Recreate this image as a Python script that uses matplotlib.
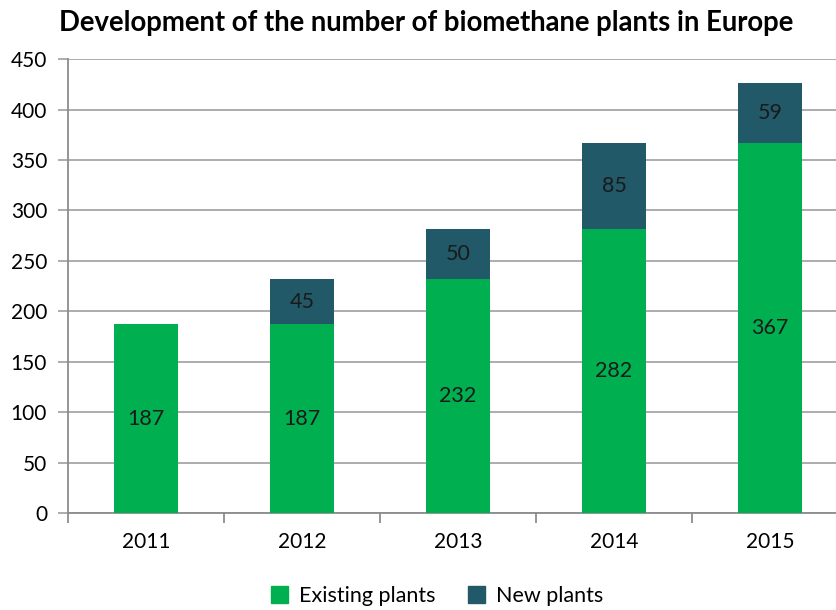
import matplotlib.pyplot as plt
from matplotlib.patches import Patch

years = ["2011", "2012", "2013", "2014", "2015"]
existing = [187, 187, 232, 282, 367]
new = [0, 45, 50, 85, 59]
new_labels = ["", "45", "50", "85", "59"]

green = "#00B050"
teal = "#215968"

plt.rcParams['font.family'] = ['Lato', 'DejaVu Sans']

fig = plt.figure(figsize=(8.37, 6.10), dpi=100)
ax = fig.add_axes([0.0812, 0.159, 0.932, 0.744])

x = list(range(len(years)))
w = 0.41
ax.bar(x, existing, w, color=green, zorder=3)
ax.bar(x, new, w, bottom=existing, color=teal, zorder=3)

for i in x:
    ax.text(i, existing[i] / 2, str(existing[i]), ha="center", va="center",
            fontsize=15.5, color="#1a1a1a", zorder=4)
    if new[i] > 0:
        ax.text(i, existing[i] + new[i] / 2, new_labels[i], ha="center", va="center",
                fontsize=15.5, color="#1a1a1a", zorder=4)

ax.set_xlim(-0.5, 4.5)
ax.set_ylim(0, 450)
ax.set_yticks(range(0, 451, 50))
ax.yaxis.grid(True, color="#a6a6a6", linewidth=1.3, zorder=0)
ax.set_xticks(x)
ax.set_xticklabels(years)
ax.set_xticks([i - 0.5 for i in range(len(years) + 1)], minor=True)
ax.tick_params(axis="x", which="major", length=0, pad=14, labelsize=15)
ax.tick_params(axis="x", which="minor", length=7, color="#8c8c8c", width=1.3)
ax.tick_params(axis="y", length=7, color="#a6a6a6", width=1.3, labelsize=15, pad=8)

for s in ["top", "right"]:
    ax.spines[s].set_visible(False)
ax.spines["left"].set_color("#8c8c8c")
ax.spines["bottom"].set_color("#8c8c8c")
ax.spines["left"].set_linewidth(1.3)
ax.spines["bottom"].set_linewidth(1.3)

fig.text(0.509, 0.963, "Development of the number of biomethane plants in Europe",
         ha="center", va="center", fontsize=19.8, fontweight="bold")

handles = [Patch(color=green, label="Existing plants"), Patch(color=teal, label="New plants")]
fig.legend(handles=handles, loc="center", bbox_to_anchor=(0.522, 0.023), ncol=2,
           frameon=False, fontsize=15.5, handlelength=0.8, handleheight=0.8,
           handletextpad=0.5, columnspacing=1.5)

fig.savefig("out.png", dpi=100)
